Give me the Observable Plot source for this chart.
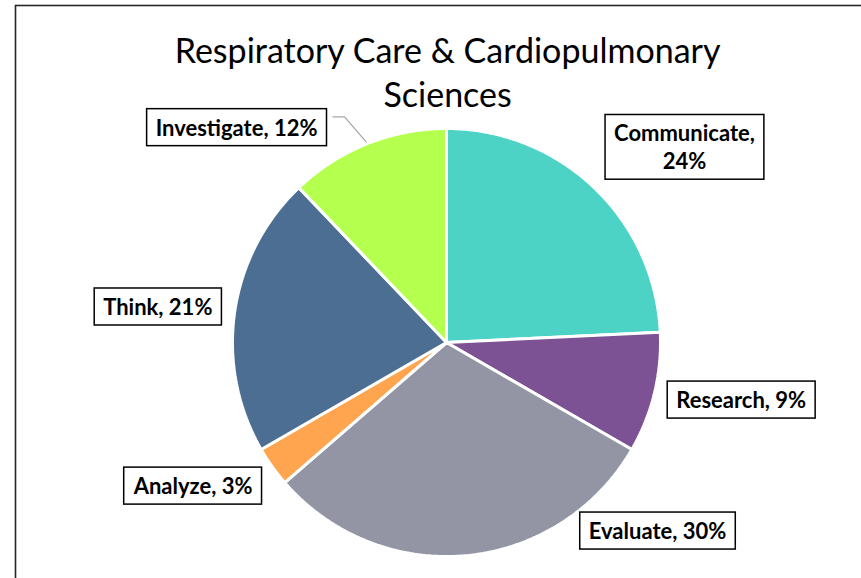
<!DOCTYPE html>
<html>
<head>
<meta charset="utf-8">
<script src="https://cdn.jsdelivr.net/npm/d3@7"></script>
<script src="https://cdn.jsdelivr.net/npm/@observablehq/plot@0.6"></script>
<style>
  html, body { margin: 0; padding: 0; background: #fff; overflow: hidden; }
  #chart svg { display: block; }
</style>
</head>
<body>
<div id="chart"></div>
<script>
// ---- data ----
const categories = ["Communicate", "Research", "Evaluate", "Analyze", "Think", "Investigate"];
const percents   = [24, 9, 30, 3, 21, 12];
const colors     = ["#4dd3c5", "#7d5294", "#9395a5", "#ffa54f", "#4d6e93", "#b5ff4f"];
const titleLines = ["Respiratory Care & Cardiopulmonary", "Sciences"];

// ---- layout (pixels of the 861x578 page) ----
const W = 861, H = 578;
const CX = 446, CY = 342, R = 214;
// label box centres, in units of the pie radius (x right, y up)
const labelAnchors = [
  [1.112, 0.916], [1.377, -0.265], [0.986, -0.877],
  [-1.184, -0.667], [-1.349, 0.170], [-0.981, 1.008]
];
const leaderFor = ["Investigate"];

// ---- slices ----
const total = d3.sum(percents);
let acc = 0;
const slices = categories.map((name, i) => {
  const a0 = acc / total * 2 * Math.PI;
  acc += percents[i];
  const a1 = acc / total * 2 * Math.PI;
  return {name, pct: percents[i], a0, a1, mid: (a0 + a1) / 2};
});
const polyPts = [];
for (const s of slices) {
  polyPts.push({name: s.name, x: 0, y: 0});
  const n = Math.max(2, Math.ceil((s.a1 - s.a0) / 0.01));
  for (let k = 0; k <= n; k++) {
    const a = s.a0 + (s.a1 - s.a0) * k / n;
    polyPts.push({name: s.name, x: Math.sin(a), y: Math.cos(a)});
  }
}
const labels = slices.map((s, i) => ({
  name: s.name,
  text: s.name === "Communicate" ? `${s.name},\n${s.pct}%` : `${s.name}, ${s.pct}%`,
  x: labelAnchors[i][0], y: labelAnchors[i][1]
}));
const leaders = [];
for (const s of slices) {
  if (!leaderFor.includes(s.name)) continue;
  const ex = Math.sin(s.mid) * 1.01, ey = Math.cos(s.mid) * 1.01;
  const bx = ex - 0.101, by = ey + 0.117;
  leaders.push({name: s.name, x: bx - 0.054, y: by});
  leaders.push({name: s.name, x: bx, y: by});
  leaders.push({name: s.name, x: ex, y: ey});
}
const titleData = titleLines.map((t, i) => ({t, x: 0.005, y: (CY - 62 - i * 44) / R}));

const FONT = "Lato, 'Open Sans', sans-serif";

const chart = Plot.plot({
  width: W, height: H,
  margin: 0,
  x: {domain: [-CX / R, (W - CX) / R], axis: null},
  y: {domain: [-(H - CY) / R, CY / R], axis: null},
  color: {domain: categories, range: colors},
  style: {fontFamily: FONT, background: "#fff"},
  marks: [
    Plot.frame({stroke: "#262626", strokeWidth: 1.6, insetLeft: 15, insetTop: 5, insetRight: -10, insetBottom: -10}),
    Plot.line(polyPts, {x: "x", y: "y", z: "name", fill: "name", stroke: "#fff", strokeWidth: 3, curve: "linear-closed", strokeLinejoin: "miter"}),
    Plot.line(leaders, {x: "x", y: "y", z: "name", stroke: "#a6a6a6", strokeWidth: 1.2}),
    Plot.text(titleData, {x: "x", y: "y", text: "t", lineAnchor: "bottom", fontSize: 34, fill: "#000", fontFamily: FONT}),
    Plot.text(labels, {x: "x", y: "y", text: "text", fontSize: 22, fontWeight: "bold", lineHeight: 1.26, fill: "#000", fontFamily: FONT, ariaDescription: "labels"})
  ]
});
document.getElementById("chart").appendChild(chart);

// draw the label boxes around the rendered label texts
const g = chart.querySelector('g[aria-description="labels"]');
if (g) {
  for (const t of Array.from(g.querySelectorAll("text"))) {
    const b = t.getBBox();
    const padX = 9, padY = 5;
    const r = document.createElementNS("http://www.w3.org/2000/svg", "rect");
    r.setAttribute("x", b.x - padX);
    r.setAttribute("y", b.y - padY);
    r.setAttribute("width", b.width + 2 * padX);
    r.setAttribute("height", b.height + 2 * padY);
    r.setAttribute("fill", "#fff");
    r.setAttribute("stroke", "#000");
    r.setAttribute("stroke-width", "1.5");
    const tr = t.getAttribute("transform");
    if (tr) r.setAttribute("transform", tr);
    g.insertBefore(r, t);
  }
}
</script>
</body>
</html>
